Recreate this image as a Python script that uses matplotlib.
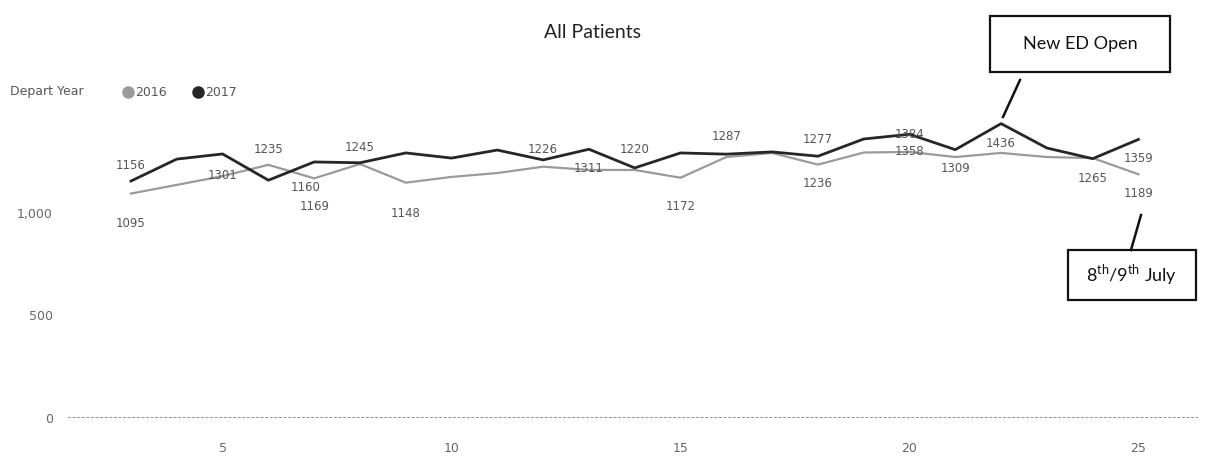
import matplotlib.pyplot as plt
from matplotlib.patches import Rectangle
from matplotlib.lines import Line2D

# data
days = list(range(3, 26))
y2016 = [1095, 1137, 1180, 1235, 1169, 1239, 1148, 1176, 1195, 1226, 1210, 1210,
         1172, 1273, 1293, 1236, 1295, 1298, 1273, 1293, 1273, 1268, 1189]
y2017 = [1156, 1263, 1288, 1160, 1249, 1245, 1293, 1268, 1307, 1259, 1311, 1220,
         1293, 1287, 1298, 1277, 1361, 1384, 1309, 1436, 1317, 1265, 1359]

# data labels as printed on the chart: (series, day, text)
labels = [
    ('2017', 3, '1156'), ('2016', 3, '1095'), ('2016', 5, '1301'), ('2016', 6, '1235'),
    ('2017', 6, '1160'), ('2016', 7, '1169'), ('2017', 8, '1245'), ('2016', 9, '1148'),
    ('2016', 12, '1226'), ('2017', 13, '1311'), ('2017', 14, '1220'), ('2016', 15, '1172'),
    ('2017', 16, '1287'), ('2017', 18, '1277'), ('2016', 18, '1236'), ('2017', 20, '1384'),
    ('2016', 20, '1358'), ('2017', 21, '1309'), ('2017', 22, '1436'), ('2017', 24, '1265'),
    ('2017', 25, '1359'), ('2016', 25, '1189'),
]
# label offsets in pixels (dx, dy)
offsets = [(0, 16), (0, -30), (0, 1), (0, 15), (37, -7), (0, -28), (0, 15), (0, -31),
           (0, 17), (0, -19), (0, 18), (0, -29), (0, 18), (0, 17), (0, -19), (0, 0),
           (0, 0), (0, -19), (0, -20), (0, -20), (0, -19), (0, -19)]

W, H = 1231, 462
c16 = '#9a9a9a'
c17 = '#262626'

fig = plt.figure(figsize=(W / 100, H / 100), dpi=100)
ax = fig.add_axes([68 / W, 44 / H, 1130 / W, 307.5 / H])

ax.plot(days, y2016, color=c16, lw=1.6, zorder=2)
ax.plot(days, y2017, color=c17, lw=2.0, zorder=3)

series = {'2016': dict(zip(days, y2016)), '2017': dict(zip(days, y2017))}
for (s, d, t), (dx, dy) in zip(labels, offsets):
    ax.annotate(t, (d, series[s][d]), xytext=(dx, dy), textcoords='offset pixels',
                ha='center', va='center', fontsize=8.5, color='#555555', zorder=4)

ax.set_xlim(1.624, 26.3)
ax.set_ylim(0, 1500)
ax.set_xticks([5, 10, 15, 20, 25])
ax.set_yticks([0, 500, 1000])
ax.set_yticklabels(['0', '500', '1,000'])
ax.tick_params(length=0, labelsize=9, labelcolor='#666666')
ax.tick_params(axis='x', pad=17)
ax.tick_params(axis='y', pad=11)
for sp in ax.spines.values():
    sp.set_visible(False)
ax.axhline(0, color='#777777', lw=1.1, ls=(0, (2, 1)), zorder=1)

# title and legend
fig.text(593 / W, 1 - 32 / H, 'All Patients', ha='center', va='center',
         fontsize=14, family='Lato', color='#222222')
fig.text(10 / W, 1 - 92 / H, 'Depart Year', ha='left', va='center',
         fontsize=9, color='#555555')
for px, col, name in [(128, c16, '2016'), (198, c17, '2017')]:
    fig.add_artist(Line2D([px / W], [1 - 92 / H], marker='o', markersize=8,
                          color=col, transform=fig.transFigure))
    fig.text((px + 7) / W, 1 - 92 / H, name, ha='left', va='center',
             fontsize=9, color='#555555')

# call-out boxes
def callout(x0, y0, x1, y1, text):
    fig.add_artist(Rectangle((x0 / W, 1 - y1 / H), (x1 - x0) / W, (y1 - y0) / H,
                             transform=fig.transFigure, fill=False,
                             lw=1.6, edgecolor='#111111'))
    fig.text((x0 + x1) / 2 / W, 1 - (y0 + y1) / 2 / H, text, ha='center',
             va='center', fontsize=13, family='Lato', color='#111111')

def stroke(xa, ya, xb, yb):
    fig.add_artist(Line2D([xa / W, xb / W], [1 - ya / H, 1 - yb / H],
                          color='#111111', lw=1.8, transform=fig.transFigure))

plt.rcParams['mathtext.fontset'] = 'custom'
plt.rcParams['mathtext.rm'] = 'Lato'
callout(990, 16, 1170, 72, 'New ED Open')
stroke(1020, 80, 1003, 117)
callout(1068, 250, 1196, 300, r'8$^{\mathrm{th}}$/9$^{\mathrm{th}}$ July')
stroke(1141, 215, 1131, 250)

fig.savefig('out.png', dpi=100)
